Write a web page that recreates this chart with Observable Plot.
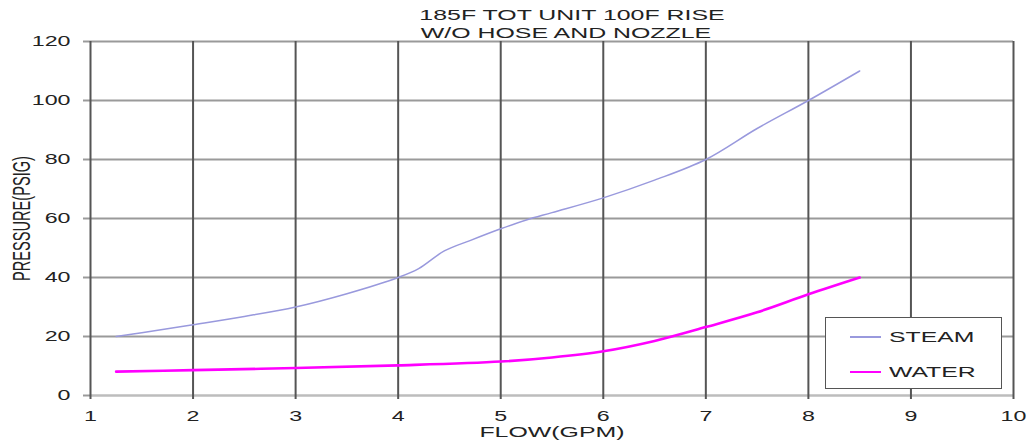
<!DOCTYPE html>
<html><head><meta charset="utf-8">
<script src="https://cdn.jsdelivr.net/npm/d3@7"></script>
<script src="https://cdn.jsdelivr.net/npm/@observablehq/plot@0.6"></script>
<style>
body{margin:0;background:#fff;}
#wrap{position:relative;width:1032px;height:444px;}
#legend{position:absolute;left:825px;top:317px;width:175px;height:70px;border:1.5px solid #555;background:#fff;font-family:"Liberation Sans",Arial,sans-serif;font-size:15px;color:#222;}
.sw{position:absolute;left:24px;width:31px;}
.lab{position:absolute;left:63px;transform:scaleX(1.65);transform-origin:left center;white-space:nowrap;line-height:1;}
</style></head>
<body><div id="wrap"><div id="legend"></div></div>
<script>
const title1 = "185F TOT UNIT 100F RISE";
const title2 = "W/O HOSE AND NOZZLE";
const xLabel = "FLOW(GPM)";
const yLabel = "PRESSURE(PSIG)";
const xTicks = [1,2,3,4,5,6,7,8,9,10];
const yTicks = [0,20,40,60,80,100,120];
const steamFlow     = [1.25,1.5,2,2.5,3,3.5,4,4.2,4.45,4.7,5,5.25,5.5,6,6.5,7,7.5,8,8.5];
const steamPressure = [20,21.3,24,26.8,30,34.5,40,43,49,52.5,56.5,59.5,62,67,73,80,90.5,100,110];
const waterFlow     = [1.25,2,3,4,5,5.5,6,6.5,7,7.5,8,8.5];
const waterPressure = [8.1,8.6,9.3,10.2,11.5,12.9,15,18.5,23.2,28.2,34.3,40];
const seriesNames  = ["STEAM","WATER"];
const seriesColors = ["#9999dd","#ff00ff"];
const seriesWidths = [1.5,2.6];

const steam = steamFlow.map((f,i)=>({flow:f, pressure:steamPressure[i]}));
const water = waterFlow.map((f,i)=>({flow:f, pressure:waterPressure[i]}));
const font = '"Liberation Sans", Arial, sans-serif';

const chart = Plot.plot({
  width:1032, height:444,
  marginLeft:90, marginRight:19, marginTop:41, marginBottom:49,
  x:{domain:[1,10]}, y:{domain:[0,120]},
  style:{fontFamily:font, background:"#fff", color:"#222"},
  marks:[
    Plot.gridY(yTicks.filter(d=>d>0), {stroke:"#9a9a9a", strokeOpacity:1, strokeWidth:2}),
    Plot.ruleY([0], {stroke:"#bdbdbd", strokeWidth:2.5}),
    Plot.axisY(yTicks, {tickSize:7, tickPadding:13, stroke:"#9a9a9a", strokeWidth:2, fontSize:14, label:null}),
    Plot.gridX(xTicks, {stroke:"#555", strokeOpacity:1, strokeWidth:2}),
    Plot.axisX(xTicks, {tickSize:4, tickPadding:12, stroke:"#555", strokeWidth:2, fontSize:14, label:null}),
    Plot.line(steam, {x:"flow", y:"pressure", stroke:seriesColors[0], strokeWidth:seriesWidths[0], curve:"catmull-rom"}),
    Plot.line(water, {x:"flow", y:"pressure", stroke:seriesColors[1], strokeWidth:seriesWidths[1], curve:"catmull-rom"}),
    Plot.text([title1], {text:d=>d, frameAnchor:"top", dx:20, dy:-26.5, lineAnchor:"middle", fontSize:15, fill:"#222"}),
    Plot.text([title2], {text:d=>d, frameAnchor:"top", dx:14, dy:-8, lineAnchor:"middle", fontSize:15, fill:"#222"}),
    Plot.text([xLabel], {text:d=>d, frameAnchor:"bottom", dy:37, lineAnchor:"middle", fontSize:15, fill:"#222"}),
    Plot.text([yLabel], {text:d=>d, frameAnchor:"left", textAnchor:"middle", dx:-68, rotate:-90, lineAnchor:"middle", fontSize:14.6, fill:"#222"})
  ]
});

const S = 1.66;
d3.select(chart).selectAll("text").each(function(){
  const t = d3.select(this);
  const tr = t.attr("transform") || "";
  t.attr("transform", tr + (tr.includes("rotate") ? ` scale(1,${S})` : ` scale(${S},1)`));
});

document.getElementById("wrap").prepend(chart);

const legend = d3.select("#legend");
const rowY = [19, 54];
seriesNames.forEach((name,i)=>{
  legend.append("div").attr("class","sw")
    .style("top", (rowY[i]-seriesWidths[i]/2)+"px")
    .style("height", seriesWidths[i]+"px")
    .style("background", seriesColors[i]);
  legend.append("div").attr("class","lab")
    .style("top", (rowY[i]-8)+"px")
    .text(name);
});
</script>
</body></html>
